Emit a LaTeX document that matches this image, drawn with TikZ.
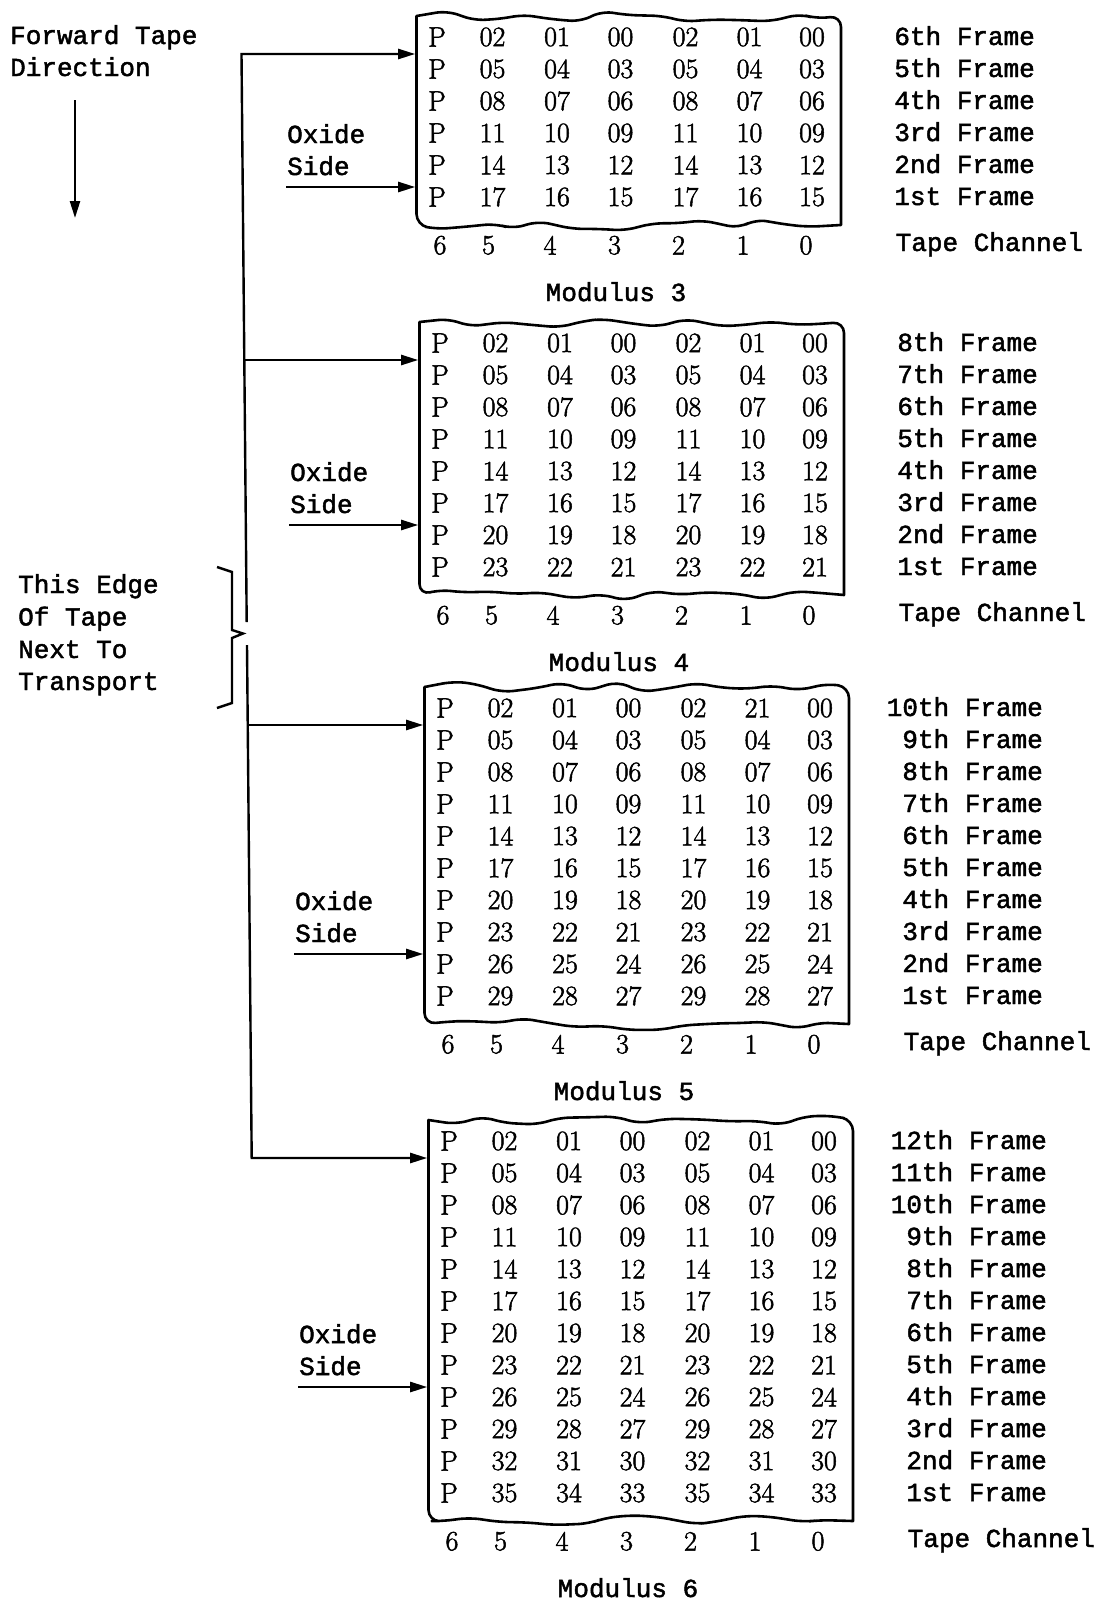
\documentclass[tikz,border=0pt]{standalone}
\usepackage{fontspec}
\newfontface\tapemono{Liberation Mono}[FakeBold=1.8]
\newfontface\gridfont{Latin Modern Roman}[FakeBold=1.8]
\usetikzlibrary{arrows.meta,decorations.pathmorphing}

\tikzset{
  cell/.style={font=\gridfont\fontsize{28}{30}\selectfont, inner sep=0pt, anchor=center},
  lbl/.style={font=\tapemono\fontsize{26}{28}\selectfont, inner sep=0pt, anchor=base west},
  frm/.style={lbl, anchor=base east},
  ctr/.style={lbl, anchor=base},
  arr/.style={line width=2.4pt, -{Triangle[length=17pt,width=10pt]}},
  tapeedge/.style={line width=2.6pt, line join=round},
  torn/.style={decoration={random steps, segment length=27pt, amplitude=6pt}, rounded corners=11pt},
  bracepath/.style={line width=2.4pt, line join=miter},
}

\newcommand\twodig[1]{\ifnum#1<10 0\fi#1}
\newcommand\ordsuffix[1]{\ifcase#1 th\or st\or nd\or rd\else th\fi}
\expandafter\def\csname ov-C-1-5\endcsname{21}

% #1 name, #2 x of P column, #3 y of first row, #4 rows, #5 oxide row, #6 modulus
\newcommand\tapeblock[6]{%
  \pgfmathsetseed{#6*17+3}%
  \pgfmathsetmacro\lasty{#3+32*(#4-1)}%
  \foreach \i in {1,...,#4} {
    \pgfmathsetmacro\ry{#3+32*(\i-1)}
    \node[cell] (#1-\i-p) at (#2,\ry) {P};
    \foreach \dx/\k [count=\j] in {55.5/2,120/1,183.5/0,248.5/2,312.5/1,375/0} {
      \pgfmathtruncatemacro\v{3*(\i-1)+\k}
      \ifcsname ov-#1-\i-\j\endcsname
        \edef\txt{\csname ov-#1-\i-\j\endcsname}%
      \else
        \edef\txt{\twodig{\v}}%
      \fi
      \node[cell] (#1-\i-\j) at (#2+\dx,\ry) {\txt};
    }
    \pgfmathtruncatemacro\fn{#4-\i+1}
    \node[frm] (#1-\i-f) at (#2+598,\ry+8) {\fn\ordsuffix{\fn} Frame};
  }
  \foreach \dx/\c in {3/6,51.5/5,113/4,177.5/3,241.5/2,306/1,369/0} {
    \node[cell] (#1-ch\c) at (#2+\dx,\lasty+48.3) {\c};
  }
  \node[lbl] (#1-tc) at (#2+458.5,\lasty+54) {Tape Channel};
  \node[ctr] (#1-mod) at (#2+179,\lasty+104) {Modulus #6};
  \pgfmathsetmacro\oy{#3+32*(#5-1)}%
  \node[lbl] (#1-ox) at (#2-150,\oy+10) {Oxide};
  \node[lbl] (#1-sd) at (#2-150,\oy+42) {Side};
  \coordinate (#1-oxs) at (#2-151,\oy+54);
  \coordinate (#1-oxe) at (#2-21.8,\oy+54);
  \draw[arr] (#1-oxs) -- (#1-oxe);
  \coordinate (#1-tl) at (#2-20.5,#3-21);
  \coordinate (#1-tr) at (#2+404,#3-21);
  \coordinate (#1-br) at (#2+404,\lasty+28);
  \coordinate (#1-bl) at (#2-20.5,\lasty+28);
  \draw[tapeedge] (#1-tl) decorate[torn]{-- (#1-tr)} -- (#1-br) decorate[torn]{-- (#1-bl)} -- cycle;
  \coordinate (#1-in) at (#2-21.8,#3+17);
}

\begin{document}
\begin{tikzpicture}[x=1pt,y=-1pt]
  \fill[white] (0,0) rectangle (1100,1604);
  \useasboundingbox (0,0) rectangle (1100,1604);

  % heading and direction arrow
  \node[lbl] (fwd1) at (10,44) {Forward Tape};
  \node[lbl] (fwd2) at (10,76) {Direction};
  \coordinate (dirS) at (75,100);
  \coordinate (dirE) at (75,218);
  \draw[arr] (dirS) -- (dirE);

  % tape blocks
  \tapeblock{A}{437}{37}{6}{4}{3}
  \tapeblock{B}{440}{343}{8}{5}{4}
  \tapeblock{C}{445}{708}{10}{7}{5}
  \tapeblock{D}{449}{1141}{12}{7}{6}

  % edge label and brace
  \node[lbl] (edge1) at (18,593) {This Edge};
  \node[lbl] (edge2) at (18,625.5) {Of Tape};
  \node[lbl] (edge3) at (18,658) {Next To};
  \node[lbl] (edge4) at (18,690) {Transport};
  \draw[bracepath] (217,567) -- (232,572) -- (232,630) -- (243,633.5) -- (232,638) -- (232,703) -- (217,708);

  % trunk and arrows to the blocks
  \coordinate (tA) at (241.5,54);
  \coordinate (tB) at (244.5,360);
  \coordinate (tC) at (248.3,725);
  \coordinate (tD) at (251.7,1158);
  \coordinate (gapT) at (246.7,622);
  \coordinate (gapB) at (247,645);
  \draw[arr] (gapT) -- (tA) -- (A-in);
  \draw[arr] (tB) -- (B-in);
  \draw[arr] (tC) -- (C-in);
  \draw[arr] (gapB) -- (tD) -- (D-in);
\end{tikzpicture}
\end{document}
